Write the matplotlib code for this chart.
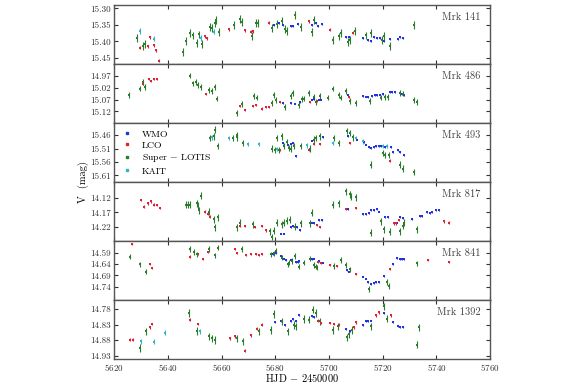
import numpy as np
import matplotlib.pyplot as plt
from matplotlib.lines import Line2D
from matplotlib.ticker import FormatStrFormatter, MultipleLocator

plt.rcParams['font.family'] = 'cmr10'
plt.rcParams['mathtext.fontset'] = 'cm'
plt.rcParams['axes.formatter.use_mathtext'] = True

# ---- Mrk 141 ----
mrk141_wmo_t = [5679.5, 5681.3, 5682.9, 5685.7, 5686.6, 5688.4, 5693.7, 5695.0, 5695.8, 5697.4, 5706.5, 5707.4,
                5712.7, 5714.6, 5715.7, 5716.7, 5717.9, 5718.9, 5720.4, 5722.6, 5725.7, 5726.6, 5727.6]
mrk141_wmo_v = [15.349, 15.344, 15.351, 15.354, 15.354, 15.346, 15.351, 15.343, 15.353, 15.346, 15.387, 15.387,
                15.390, 15.397, 15.399, 15.387, 15.389, 15.389, 15.400, 15.394, 15.392, 15.387, 15.390]
mrk141_lco_t = [5629.8, 5632.6, 5633.5, 5634.8, 5635.7, 5636.8, 5653.8, 5654.6, 5662.7, 5668.9, 5670.8, 5671.8,
                5677.6, 5692.7, 5700.5, 5709.0]
mrk141_lco_v = [15.419, 15.415, 15.387, 15.412, 15.426, 15.458, 15.385, 15.390, 15.363, 15.366, 15.371, 15.369,
                15.343, 15.339, 15.364, 15.373]
mrk141_slo_t = [5628.6, 5630.7, 5631.7, 5645.7, 5646.6, 5648.4, 5649.4, 5650.7, 5651.5, 5652.8, 5655.6, 5656.5,
                5657.4, 5658.1, 5659.0, 5664.6, 5666.8, 5667.7, 5671.4, 5673.0, 5673.6, 5678.8, 5680.7, 5682.6,
                5683.8, 5684.4, 5687.5, 5689.4, 5693.5, 5694.3, 5701.5, 5703.6, 5704.5, 5707.1, 5708.0, 5709.6,
                5713.6, 5715.8, 5719.8, 5720.6, 5722.6, 5731.6]
mrk141_slo_v = [15.390, 15.414, 15.407, 15.433, 15.399, 15.374, 15.382, 15.405, 15.379, 15.407, 15.356, 15.358,
                15.344, 15.336, 15.371, 15.351, 15.331, 15.341, 15.384, 15.343, 15.343, 15.358, 15.346, 15.338,
                15.361, 15.368, 15.320, 15.356, 15.371, 15.336, 15.397, 15.385, 15.374, 15.402, 15.395, 15.368,
                15.382, 15.375, 15.397, 15.384, 15.415, 15.351]
mrk141_kait_t = [5629.6, 5634.8, 5652.2, 5657.1]
mrk141_kait_v = [15.368, 15.392, 15.390, 15.371]

# ---- Mrk 486 ----
mrk486_wmo_t = [5682.9, 5685.7, 5687.5, 5689.1, 5693.7, 5694.6, 5696.2, 5697.2, 5707.0, 5712.7, 5713.6, 5714.6,
                5716.1, 5717.0, 5717.9, 5718.9, 5720.1, 5722.6, 5723.5, 5724.4, 5727.2, 5727.8]
mrk486_wmo_v = [15.085, 15.085, 15.087, 15.080, 15.071, 15.069, 15.071, 15.071, 15.052, 15.055, 15.058, 15.059,
                15.055, 15.052, 15.051, 15.052, 15.048, 15.038, 15.038, 15.038, 15.048, 15.052]
mrk486_lco_t = [5630.8, 5632.9, 5633.8, 5634.8, 5636.0, 5654.3, 5666.8, 5668.9, 5671.8, 5672.9, 5674.9, 5676.7,
                5677.6, 5681.9, 5692.9, 5695.6, 5707.6]
mrk486_lco_v = [15.006, 14.985, 14.992, 14.985, 14.985, 15.048, 15.096, 15.114, 15.099, 15.094, 15.108, 15.101,
                15.101, 15.080, 15.080, 15.076, 15.058]
mrk486_slo_t = [5625.7, 5629.8, 5630.7, 5631.7, 5648.4, 5649.4, 5650.4, 5651.2, 5652.2, 5655.5, 5656.5, 5657.4,
                5658.4, 5665.8, 5667.7, 5672.0, 5673.3, 5678.8, 5679.5, 5680.4, 5683.8, 5686.0, 5686.6, 5688.8,
                5690.0, 5690.6, 5692.7, 5694.3, 5695.0, 5696.6, 5699.7, 5701.5, 5703.6, 5704.5, 5706.5, 5707.7,
                5709.9, 5715.4, 5719.4, 5721.0, 5722.0, 5726.6, 5727.6, 5731.6, 5732.6]
mrk486_slo_v = [15.052, 15.024, 14.995, 15.017, 14.969, 15.002, 14.995, 15.008, 15.016, 15.030, 15.034, 15.016,
                15.066, 15.127, 15.089, 15.055, 15.062, 15.085, 15.052, 15.071, 15.101, 15.055, 15.041, 15.094,
                15.069, 15.066, 15.041, 15.059, 15.080, 15.055, 15.062, 15.024, 15.051, 15.062, 15.034, 15.076,
                15.085, 15.076, 15.062, 15.058, 15.059, 15.041, 15.045, 15.071, 15.080]
mrk486_kait_t = []
mrk486_kait_v = []

# ---- Mrk 493 ----
mrk493_wmo_t = [5682.9, 5684.8, 5685.7, 5686.6, 5687.8, 5693.7, 5697.8, 5707.0, 5710.5, 5713.0, 5713.9, 5714.8,
                5715.8, 5716.7, 5717.5, 5718.5, 5719.2, 5720.8, 5721.6, 5722.9, 5723.9, 5725.6, 5726.6, 5727.8]
mrk493_wmo_v = [15.489, 15.498, 15.493, 15.489, 15.539, 15.480, 15.468, 15.464, 15.476, 15.486, 15.495, 15.505,
                15.508, 15.505, 15.501, 15.499, 15.501, 15.505, 15.499, 15.505, 15.523, 15.514, 15.523, 15.535]
mrk493_lco_t = [5681.7, 5692.7, 5694.6, 5696.8, 5707.7, 5722.6]
mrk493_lco_v = [15.514, 15.514, 15.493, 15.493, 15.489, 15.555]
mrk493_slo_t = [5655.6, 5657.1, 5657.7, 5658.7, 5664.3, 5665.6, 5665.8, 5668.0, 5678.8, 5679.8, 5680.7, 5681.3,
                5682.6, 5683.4, 5684.2, 5685.0, 5685.9, 5686.9, 5689.6, 5693.1, 5694.3, 5695.0, 5696.8, 5701.8,
                5703.6, 5706.7, 5707.7, 5709.0, 5715.7, 5720.1, 5721.0, 5722.3, 5726.6, 5727.6, 5731.6]
mrk493_slo_v = [15.470, 15.464, 15.439, 15.501, 15.470, 15.460, 15.468, 15.489, 15.510, 15.514, 15.470, 15.514,
                15.464, 15.501, 15.485, 15.508, 15.510, 15.501, 15.501, 15.510, 15.476, 15.470, 15.464, 15.470,
                15.489, 15.445, 15.451, 15.468, 15.570, 15.526, 15.533, 15.533, 15.570, 15.585, 15.598]
mrk493_kait_t = [5656.5, 5662.7, 5669.9, 5673.9, 5680.7, 5691.9, 5701.5, 5709.9, 5712.7, 5720.1, 5721.6]
mrk493_kait_v = [15.468, 15.470, 15.493, 15.493, 15.510, 15.498, 15.489, 15.470, 15.483, 15.501, 15.501]

# ---- Mrk 817 ----
mrk817_wmo_t = [5682.3, 5683.4, 5685.9, 5686.6, 5688.1, 5689.1, 5693.7, 5694.6, 5696.2, 5697.4, 5707.1, 5712.7,
                5713.6, 5714.8, 5715.8, 5716.7, 5717.7, 5718.5, 5720.8, 5722.0, 5725.4, 5726.6, 5727.6, 5730.9,
                5733.8, 5734.7, 5736.5, 5737.5, 5738.4, 5740.0, 5740.9]
mrk817_wmo_v = [14.243, 14.243, 14.222, 14.217, 14.222, 14.232, 14.205, 14.208, 14.197, 14.197, 14.158, 14.176,
                14.176, 14.173, 14.162, 14.162, 14.158, 14.167, 14.185, 14.187, 14.205, 14.187, 14.190, 14.193,
                14.182, 14.182, 14.170, 14.173, 14.170, 14.162, 14.162]
mrk817_lco_t = [5630.1, 5631.1, 5632.7, 5633.8, 5634.8, 5636.0, 5637.0, 5653.8, 5654.9, 5655.9, 5666.8, 5668.9,
                5672.6, 5674.9, 5676.7, 5695.6, 5696.8, 5706.5, 5709.9, 5724.1, 5725.1, 5726.0, 5742.7, 5744.6]
mrk817_lco_v = [14.127, 14.150, 14.139, 14.132, 14.143, 14.144, 14.155, 14.167, 14.176, 14.185, 14.217, 14.217,
                14.220, 14.217, 14.232, 14.213, 14.220, 14.158, 14.155, 14.208, 14.208, 14.197, 14.201, 14.205]
mrk817_slo_t = [5646.6, 5647.4, 5648.4, 5650.7, 5651.2, 5651.5, 5652.5, 5655.3, 5657.1, 5657.7, 5658.6, 5665.8,
                5666.8, 5671.8, 5678.0, 5678.8, 5679.5, 5680.7, 5682.6, 5683.4, 5684.4, 5685.4, 5687.5, 5689.6,
                5692.9, 5693.5, 5701.5, 5703.6, 5706.5, 5707.7, 5708.2, 5709.9, 5715.7, 5719.5, 5720.6, 5722.6,
                5726.6, 5727.6, 5727.8, 5732.8]
mrk817_slo_v = [14.144, 14.143, 14.144, 14.139, 14.147, 14.162, 14.112, 14.167, 14.193, 14.222, 14.187, 14.222,
                14.205, 14.211, 14.236, 14.255, 14.234, 14.205, 14.211, 14.205, 14.199, 14.196, 14.219, 14.208,
                14.208, 14.172, 14.143, 14.139, 14.097, 14.108, 14.115, 14.118, 14.240, 14.201, 14.228, 14.237,
                14.236, 14.217, 14.205, 14.228]
mrk817_kait_t = []
mrk817_kait_v = []

# ---- Mrk 841 ----
mrk841_wmo_t = [5679.1, 5680.3, 5682.3, 5683.2, 5684.0, 5685.7, 5686.3, 5687.8, 5688.4, 5689.0, 5693.7, 5694.6,
                5696.2, 5697.8, 5706.7, 5707.4, 5712.7, 5713.6, 5714.6, 5715.7, 5716.7, 5717.5, 5718.5, 5720.6,
                5723.9, 5725.4, 5726.4, 5727.2, 5727.8]
mrk841_wmo_v = [14.597, 14.590, 14.605, 14.616, 14.622, 14.622, 14.622, 14.631, 14.631, 14.626, 14.619, 14.616,
                14.626, 14.634, 14.667, 14.673, 14.695, 14.704, 14.721, 14.729, 14.724, 14.721, 14.721, 14.692,
                14.641, 14.615, 14.619, 14.619, 14.619]
mrk841_lco_t = [5626.7, 5633.2, 5634.2, 5648.2, 5651.2, 5653.2, 5655.0, 5665.2, 5665.6, 5669.3, 5671.1, 5673.0,
                5673.9, 5675.1, 5695.8, 5697.1, 5700.5, 5703.0, 5709.9, 5722.6, 5736.8, 5744.6]
mrk841_lco_v = [14.552, 14.641, 14.656, 14.607, 14.597, 14.616, 14.586, 14.575, 14.590, 14.602, 14.597, 14.597,
                14.602, 14.594, 14.631, 14.637, 14.645, 14.648, 14.685, 14.660, 14.622, 14.631]
mrk841_slo_t = [5625.9, 5629.8, 5631.9, 5648.1, 5649.9, 5650.7, 5655.3, 5657.7, 5658.6, 5667.7, 5678.6, 5679.5,
                5680.1, 5682.6, 5684.7, 5685.3, 5686.3, 5687.5, 5688.8, 5690.6, 5692.9, 5694.3, 5695.0, 5695.6,
                5701.8, 5704.3, 5706.5, 5707.7, 5714.8, 5721.6, 5722.3, 5732.6]
mrk841_slo_v = [14.607, 14.641, 14.673, 14.575, 14.587, 14.597, 14.575, 14.602, 14.568, 14.575, 14.597, 14.593,
                14.583, 14.612, 14.641, 14.634, 14.626, 14.605, 14.651, 14.634, 14.616, 14.645, 14.651, 14.656,
                14.648, 14.622, 14.645, 14.663, 14.750, 14.718, 14.736, 14.637]
mrk841_kait_t = []
mrk841_kait_v = []

# ---- Mrk 1392 ----
mrk1392_wmo_t = [5679.8, 5682.3, 5683.5, 5685.7, 5686.6, 5687.8, 5688.8, 5693.5, 5694.6, 5706.5, 5707.7, 5712.7,
                 5713.6, 5714.6, 5715.7, 5720.6, 5723.9, 5725.6, 5726.6, 5727.6]
mrk1392_wmo_v = [14.822, 14.818, 14.831, 14.818, 14.811, 14.820, 14.798, 14.802, 14.806, 14.843, 14.850, 14.831,
                 14.820, 14.820, 14.817, 14.793, 14.822, 14.836, 14.839, 14.839]
mrk1392_lco_t = [5626.1, 5627.1, 5633.2, 5634.2, 5648.1, 5651.2, 5663.1, 5665.2, 5668.9, 5671.0, 5673.3, 5675.1,
                 5695.8, 5697.1, 5700.5, 5701.8, 5703.6, 5709.2, 5709.9, 5717.5, 5718.5, 5722.9]
mrk1392_lco_v = [14.879, 14.879, 14.839, 14.828, 14.814, 14.828, 14.874, 14.868, 14.914, 14.865, 14.843, 14.831,
                 14.818, 14.825, 14.825, 14.828, 14.831, 14.839, 14.823, 14.800, 14.790, 14.800]
mrk1392_slo_t = [5629.8, 5631.9, 5647.8, 5650.7, 5655.5, 5656.5, 5657.7, 5665.8, 5667.9, 5673.9, 5678.6, 5679.5,
                 5682.6, 5684.7, 5686.9, 5687.8, 5690.6, 5692.7, 5694.0, 5695.0, 5696.8, 5701.5, 5703.4, 5706.7,
                 5707.4, 5708.6, 5715.7, 5720.4, 5721.6, 5732.6, 5733.4]
mrk1392_slo_v = [14.906, 14.852, 14.793, 14.850, 14.868, 14.874, 14.879, 14.874, 14.884, 14.852, 14.847, 14.796,
                 14.820, 14.852, 14.831, 14.836, 14.812, 14.814, 14.782, 14.793, 14.820, 14.847, 14.836, 14.871,
                 14.861, 14.847, 14.836, 14.771, 14.811, 14.895, 14.839]
mrk1392_kait_t = [5630.1, 5635.0, 5638.9, 5651.9]
mrk1392_kait_v = [14.884, 14.886, 14.857, 14.852]

# typical photometric errors (mag)
err_wmo = 0.003
err_lco = 0.0045
err_slo = 0.012
err_kait = 0.008

names = ['Mrk 141', 'Mrk 486', 'Mrk 493', 'Mrk 817', 'Mrk 841', 'Mrk 1392']
ylims = [(15.468, 15.290), (15.169, 14.920), (15.635, 15.414),
         (14.269, 14.065), (14.798, 14.539), (14.941, 14.751)]
yticks = [[15.30, 15.35, 15.40, 15.45], [14.97, 15.02, 15.07, 15.12], [15.46, 15.51, 15.56, 15.61],
          [14.12, 14.17, 14.22], [14.59, 14.64, 14.69, 14.74], [14.78, 14.83, 14.88, 14.93]]

panels = [
    [(mrk141_wmo_t, mrk141_wmo_v), (mrk141_lco_t, mrk141_lco_v), (mrk141_slo_t, mrk141_slo_v), (mrk141_kait_t, mrk141_kait_v)],
    [(mrk486_wmo_t, mrk486_wmo_v), (mrk486_lco_t, mrk486_lco_v), (mrk486_slo_t, mrk486_slo_v), (mrk486_kait_t, mrk486_kait_v)],
    [(mrk493_wmo_t, mrk493_wmo_v), (mrk493_lco_t, mrk493_lco_v), (mrk493_slo_t, mrk493_slo_v), (mrk493_kait_t, mrk493_kait_v)],
    [(mrk817_wmo_t, mrk817_wmo_v), (mrk817_lco_t, mrk817_lco_v), (mrk817_slo_t, mrk817_slo_v), (mrk817_kait_t, mrk817_kait_v)],
    [(mrk841_wmo_t, mrk841_wmo_v), (mrk841_lco_t, mrk841_lco_v), (mrk841_slo_t, mrk841_slo_v), (mrk841_kait_t, mrk841_kait_v)],
    [(mrk1392_wmo_t, mrk1392_wmo_v), (mrk1392_lco_t, mrk1392_lco_v), (mrk1392_slo_t, mrk1392_slo_v), (mrk1392_kait_t, mrk1392_kait_v)],
]

tel_labels = ['WMO', 'LCO', r'Super $-$ LOTIS', 'KAIT']
tel_colors = ['#2233dd', '#dd2233', '#2a7d2a', '#33b5c5']
tel_errs = [err_wmo, err_lco, err_slo, err_kait]

fig, axes = plt.subplots(6, 1, sharex=True, figsize=(5.76, 3.84), dpi=100)
fig.subplots_adjust(left=0.198, right=0.851, bottom=0.065, top=0.987, hspace=0)

for ax, series, name, yl, yt in zip(axes, panels, names, ylims, yticks):
    for (t, v), col, er in zip(series, tel_colors, tel_errs):
        if len(t) == 0:
            continue
        ax.errorbar(t, v, yerr=er, fmt='s', ms=1.8, color=col, ecolor=col,
                    elinewidth=0.8, capsize=1.3, capthick=0.8, mew=0)
    ax.set_ylim(yl)
    ax.set_yticks(yt)
    ax.yaxis.set_major_formatter(FormatStrFormatter('%.2f'))
    ax.text(0.975, 0.80, name, transform=ax.transAxes, ha='right', va='center',
            fontsize=7.5, color='#444444')
    ax.tick_params(direction='in', top=True, right=True, labelsize=6.5,
                   length=3, width=0.8, pad=2, colors='#333333')
    for sp in ax.spines.values():
        sp.set_color('#555555')
        sp.set_linewidth(1.0)

axes[-1].set_xlim(5620, 5760)
axes[-1].xaxis.set_major_locator(MultipleLocator(20))

handles = [Line2D([], [], marker='s', ms=2, ls='none', color=c) for c in tel_colors]
axes[2].legend(handles, tel_labels, loc='upper left', frameon=False, fontsize=7,
               handlelength=1.2, handletextpad=1.0, labelspacing=0.25,
               borderaxespad=0.3, bbox_to_anchor=(0.0, 1.0))

fig.text(0.144, 0.526, 'V  (mag)', rotation=90, ha='center', va='center', fontsize=7.5)
fig.text(0.524, 0.016, r'HJD $-$ 2450000', ha='center', va='center', fontsize=7.5)

fig.savefig('out.png', dpi=100)
